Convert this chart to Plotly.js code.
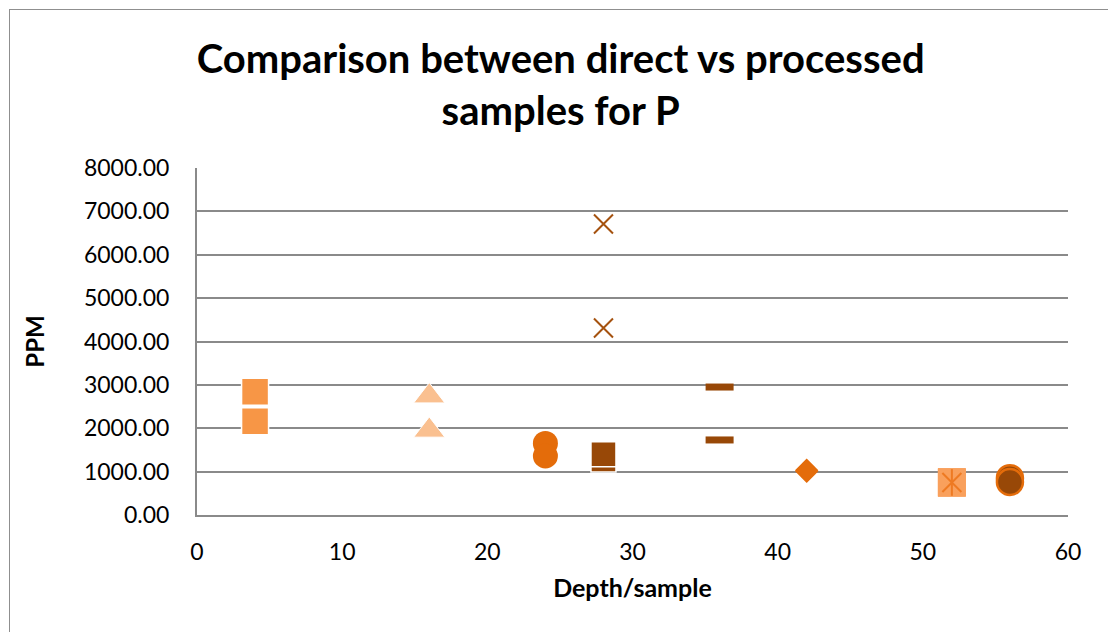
<!DOCTYPE html>
<html>
<head>
<meta charset="utf-8">
<script src="https://cdn.plot.ly/plotly-3.0.1.min.js"></script>
<style>
  html, body { margin: 0; padding: 0; background: #ffffff; }
  #wrap { position: relative; width: 1108px; height: 632px; overflow: hidden; }
  #chart { position: absolute; left: 0; top: 0; width: 1108px; height: 632px; }
  #frame { position: absolute; left: 9px; top: 9px; width: 1120px; height: 650px;
           border: 1.5px solid #8f8f8f; pointer-events: none; }
</style>
</head>
<body>
<div id="wrap">
  <div id="chart"></div>
  <div id="frame"></div>
</div>
<script>
// ---- data ----
const chartTitle = "Comparison between direct vs processed<br>samples for P";
const xTitle = "Depth/sample";
const yTitle = "PPM";

const sqLightX = [4, 4];        const sqLightY = [2840, 2160];
const triX = [16, 16];          const triY = [2740, 1950];
const circOrX = [24, 24];       const circOrY = [1650, 1360];
const sqDarkX = [28, 28];       const sqDarkY = [1280, 1400];
const crossX = [28, 28];        const crossY = [6710, 4310];
const dashX = [36, 36];         const dashY = [2950, 1730];
const diamX = [42, 42];         const diamY = [1030, 1010];
const sqPaleX = [52, 52];       const sqPaleY = [760, 740];
const starX = [52];             const starY = [750];
const circDkX = [56, 56];       const circDkY = [850, 760];

const xTicks = [0, 10, 20, 30, 40, 50, 60];
const yTicks = [0, 1000, 2000, 3000, 4000, 5000, 6000, 7000, 8000];

const traces = [
  { x: sqLightX, y: sqLightY, mode: 'markers', type: 'scatter',
    marker: { symbol: 'square', size: 27, color: '#F79646', line: { color: '#ffffff', width: 1.5 } } },
  { x: triX, y: triY, mode: 'markers', type: 'scatter',
    marker: { symbol: 'triangle-up', size: 27, color: '#FAC090', line: { color: '#ffffff', width: 1 } } },
  { x: circOrX, y: circOrY, mode: 'markers', type: 'scatter',
    marker: { symbol: 'circle', size: 25, color: '#E46C0A', line: { width: 0 } } },
  { x: sqDarkX, y: sqDarkY, mode: 'markers', type: 'scatter',
    marker: { symbol: 'square', size: 25, color: '#984807', line: { color: '#ffffff', width: 1.5 } } },
  { x: crossX, y: crossY, mode: 'markers', type: 'scatter',
    marker: { symbol: 'x-thin-open', size: 19, color: '#A5520F', line: { color: '#A5520F', width: 2 } } },
  { x: dashX, y: dashY, mode: 'markers', type: 'scatter',
    marker: { symbol: 'line-ew-open', size: 20, color: '#984807', line: { color: '#984807', width: 7 } } },
  { x: diamX, y: diamY, mode: 'markers', type: 'scatter',
    marker: { symbol: 'diamond', size: 18, color: '#E46C0A', line: { width: 0 } } },
  { x: sqPaleX, y: sqPaleY, mode: 'markers', type: 'scatter',
    marker: { symbol: 'square', size: 28, color: '#F9A05C', line: { width: 0 } } },
  { x: starX, y: starY, mode: 'markers', type: 'scatter',
    marker: { symbol: 'x-thin-open', size: 19, color: '#EE7A22', line: { color: '#EE7A22', width: 2 } } },
  { x: starX, y: starY, mode: 'markers', type: 'scatter',
    marker: { symbol: 'line-ns-open', size: 19, color: '#EE7A22', line: { color: '#EE7A22', width: 2 } } },
  { x: circDkX, y: circDkY, mode: 'markers', type: 'scatter',
    marker: { symbol: 'circle', size: 26, color: '#984807', line: { color: '#E46C0A', width: 2.5 } } }
];

const layout = {
  width: 1108, height: 632,
  margin: { l: 197, r: 40, t: 168, b: 117 },
  paper_bgcolor: 'rgba(0,0,0,0)',
  plot_bgcolor: '#ffffff',
  showlegend: false,
  font: { family: 'Lato, "Open Sans", sans-serif', color: '#000000' },
  title: {
    text: '<b>' + chartTitle + '</b>',
    font: { size: 40, family: 'Lato, "Open Sans", sans-serif', color: '#000000' },
    xref: 'container', x: 0.506, xanchor: 'center',
    yref: 'container', y: 0.884, yanchor: 'middle'
  },
  xaxis: {
    range: [0, 60], tickvals: xTicks, ticktext: xTicks.map(String),
    showgrid: false, zeroline: false,
    showline: true, linecolor: '#8a8a8a', linewidth: 2,
    ticks: '', ticklabelstandoff: 15,
    tickfont: { size: 23 },
    title: { text: '<b>' + xTitle + '</b>', font: { size: 25 }, standoff: 16 }
  },
  yaxis: {
    range: [0, 8000], tickvals: yTicks, ticktext: yTicks.map(v => v.toFixed(2)),
    showgrid: true, gridcolor: '#8a8a8a', gridwidth: 2,
    zeroline: false,
    showline: true, linecolor: '#8a8a8a', linewidth: 2,
    ticks: '', ticklabelstandoff: 21,
    tickfont: { size: 23 },
    title: { text: '<b>' + yTitle + '</b>', font: { size: 24 }, standoff: 33 }
  }
};

Plotly.newPlot('chart', traces, layout, { displayModeBar: false, staticPlot: true });
</script>
</body>
</html>
